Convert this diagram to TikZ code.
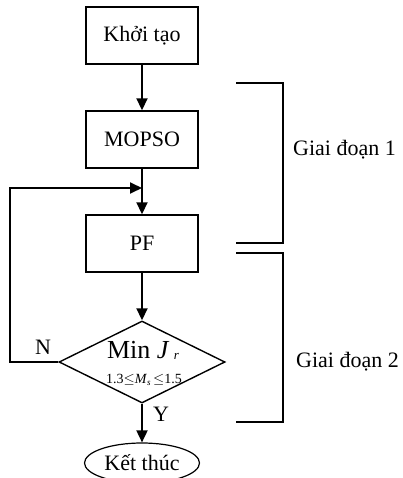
\documentclass[tikz,border=0pt]{standalone}
\usepackage{fontspec}
\setmainfont{Liberation Serif}
\usetikzlibrary{shapes.geometric,arrows.meta}
\begin{document}
\begin{tikzpicture}[x=1pt,y=-1pt,
  procbox/.style={draw,line width=1.4pt,minimum width=112pt,minimum height=57pt,inner sep=0pt,font=\fontsize{22}{24}\selectfont},
  flow/.style={line width=1.8pt,-{Triangle[length=12pt,width=11pt]}},
  brack/.style={line width=1.2pt},
  lbl/.style={font=\fontsize{22}{24}\selectfont,inner sep=0pt}]
\useasboundingbox (0,0) rectangle (402,478);
\node[procbox] (k) at (142,35.5) {Khởi tạo};
\node[procbox] (m) at (142,139.5) {MOPSO};
\node[procbox] (p) at (142,243.5) {PF};
\node[draw,diamond,line width=1.4pt,aspect=2.02,minimum width=166pt,minimum height=82pt,inner sep=0pt] (d) at (142,362) {};
\node[inner sep=0pt,anchor=base,font=\fontsize{26}{26}\selectfont] (dt1) at (143,358) {Min \textit{J}\,\raisebox{-1pt}{\fontsize{13}{13}\selectfont\textit{r}}};
\node[inner sep=0pt,anchor=base,font=\fontsize{14}{15}\selectfont] (dt2) at (144,383) {1.3$\le$\textit{M}\raisebox{-2pt}{\fontsize{9}{9}\selectfont\textit{s}}\,$\le$1.5};
\node[draw,ellipse,line width=1.2pt,minimum width=115pt,minimum height=40pt,inner sep=0pt,font=\fontsize{22}{24}\selectfont] (e) at (142,463) {Kết thúc};
\coordinate (j) at (142,188);
\coordinate (c1) at (10,362);
\coordinate (c2) at (10,188);
\draw[flow] (k.south) -- (m.north);
\draw[flow] (m.south) -- (p.north);
\draw[flow] (p.south) -- (d.north);
\draw[flow] (d.south) -- (e.north);
\draw[flow] (d.west) -- (c1) -- (c2) -- (j);
\node[lbl] (n) at (43,347) {N};
\node[lbl] (y) at (161,414) {Y};
\coordinate (b1a) at (236,83);
\coordinate (b1b) at (283,83);
\coordinate (b1c) at (283,243);
\coordinate (b1d) at (236,243);
\coordinate (b2a) at (236,253);
\coordinate (b2b) at (283,253);
\coordinate (b2c) at (283,422);
\coordinate (b2d) at (236,422);
\draw[brack] (b1a) -- (b1b) -- (b1c) -- (b1d);
\draw[brack] (b2a) -- (b2b) -- (b2c) -- (b2d);
\node[lbl,anchor=west] (g1) at (293,150) {Giai đoạn 1};
\node[lbl,anchor=west] (g2) at (296,362) {Giai đoạn 2};
\end{tikzpicture}
\end{document}
